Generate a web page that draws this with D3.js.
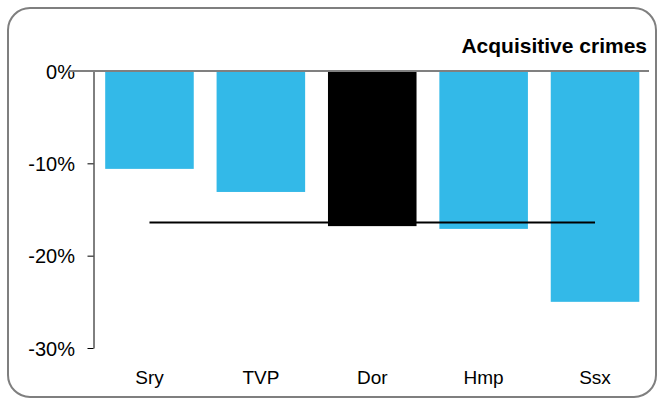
<!DOCTYPE html>
<html><head><meta charset="utf-8">
<script src="https://cdn.jsdelivr.net/npm/d3@7"></script>
<style>body{margin:0;background:#fff;}svg{display:block;font-family:"Liberation Sans",Arial,sans-serif;}</style>
</head><body>
<svg id="c" width="657" height="400"></svg>
<script>
const categories = ["Sry","TVP","Dor","Hmp","Ssx"];
const values = [-0.106,-0.131,-0.168,-0.171,-0.250];
const highlight = ["Dor"];
const average = -0.164;
const yTicks = [0,-0.1,-0.2,-0.3];
const yTickLabels = ["0%","-10%","-20%","-30%"];
const title = "Acquisitive crimes";

const svg = d3.select("#c");
svg.append("rect").attr("x",8).attr("y",8).attr("width",648).attr("height",389)
  .attr("rx",22).attr("ry",22).attr("fill","#fff").attr("stroke","#7f7f7f").attr("stroke-width",2);

const x = d3.scaleBand().domain(categories).range([93.5,651]).paddingInner(0.205).paddingOuter(0.105);
const y = d3.scaleLinear().domain([-0.3,0]).range([348,71]);

// bars
svg.selectAll("rect.bar").data(categories).join("rect").attr("class","bar")
  .attr("x",d=>x(d)).attr("width",x.bandwidth())
  .attr("y",y(0)).attr("height",(d,i)=>y(values[i])-y(0))
  .attr("fill",d=>highlight.includes(d)?"#000":"#33b9e8");

// average line
svg.append("line").attr("x1",x(categories[0])+x.bandwidth()/2).attr("x2",x(categories[4])+x.bandwidth()/2)
  .attr("y1",y(average)).attr("y2",y(average)).attr("stroke","#000").attr("stroke-width",2);

// y axis
const ax = svg.append("g").attr("transform","translate(93.5,0)")
  .call(d3.axisLeft(y).tickValues(yTicks).tickFormat((d,i)=>yTickLabels[i]).tickSize(6).tickSizeOuter(0));
ax.attr("font-family",null).attr("font-size",null);
ax.select(".domain").attr("stroke","#000");
ax.selectAll(".tick line").attr("stroke","#000");
ax.selectAll(".tick text").attr("font-size",20).attr("fill","#000").attr("x",-18.5).attr("dy","0.35em");

// zero line
svg.append("line").attr("x1",69).attr("x2",649).attr("y1",y(0)).attr("y2",y(0))
  .attr("stroke","#808080").attr("stroke-width",2);

// category labels
svg.selectAll("text.cat").data(categories).join("text").attr("class","cat")
  .attr("x",d=>x(d)+x.bandwidth()/2).attr("y",383.5).attr("text-anchor","middle")
  .attr("font-size",19).attr("fill","#000").text(d=>d);

svg.append("text").attr("x",647).attr("y",53).attr("text-anchor","end")
  .attr("font-size",21).attr("font-weight","bold").attr("fill","#000").text(title);
</script>
</body></html>
